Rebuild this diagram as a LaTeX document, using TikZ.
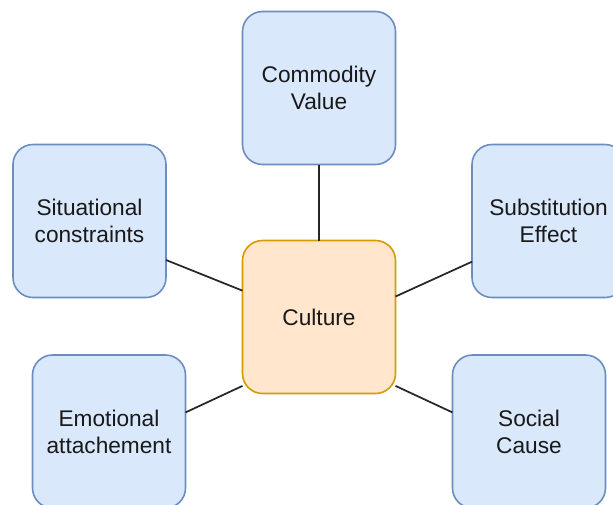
\documentclass[tikz,border=0pt]{standalone}
\usepackage{fontspec}
\setmainfont{Liberation Sans}
\begin{document}
\begin{tikzpicture}[x=0.75pt, y=-0.75pt,
  box/.style={draw, rounded corners=15pt, minimum size=114.75pt, line width=1.2pt, outer sep=0pt, align=center, text=black!90, font=\fontsize{17}{20.4}\selectfont},
  link/.style={line width=1.3pt, black!85}]
\definecolor{bluefill}{HTML}{DAE8FC}
\definecolor{bluedraw}{HTML}{6C8EBF}
\definecolor{orangefill}{HTML}{FFE6CC}
\definecolor{orangedraw}{HTML}{D79B00}
\clip (0,0) rectangle (613,504);
\node[box, fill=orangefill, draw=orangedraw] (cul) at (319,317) {Culture};
\node[box, fill=bluefill, draw=bluedraw] (com) at (319,88) {Commodity\\Value};
\node[box, fill=bluefill, draw=bluedraw] (sit) at (89.5,221) {Situational\\constraints};
\node[box, fill=bluefill, draw=bluedraw] (sub) at (548.5,221) {Substitution\\Effect};
\node[box, fill=bluefill, draw=bluedraw] (emo) at (109,431.5) {Emotional\\attachement};
\node[box, fill=bluefill, draw=bluedraw] (soc) at (529,431.5) {Social\\Cause};
\draw[link] (com.south) -- (cul.north);
\draw[link] (sit.-27) -- (cul.161);
\draw[link] (sub.208) -- (cul.15);
\draw[link] (emo.14) -- (cul.222);
\draw[link] (soc.166) -- (cul.-42);
\end{tikzpicture}
\end{document}
